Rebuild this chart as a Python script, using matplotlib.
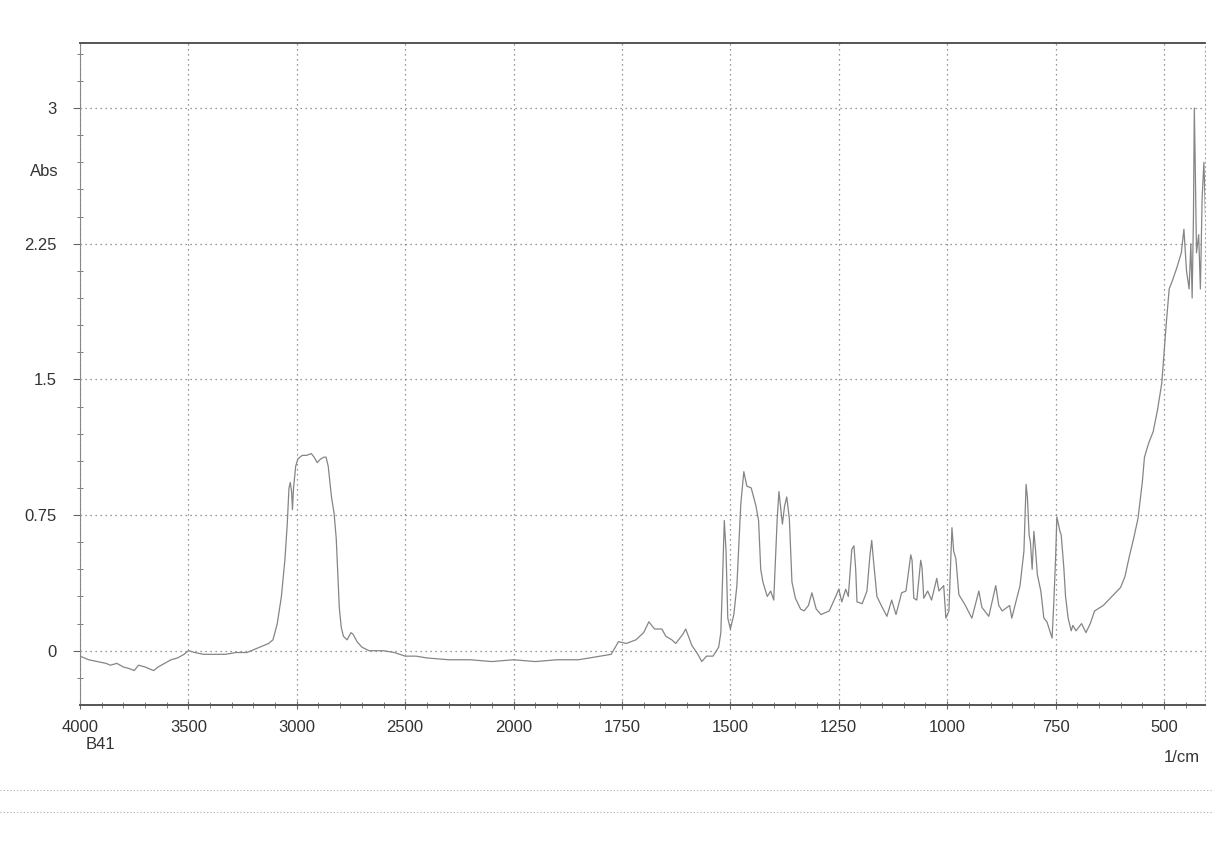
import numpy as np
import matplotlib
matplotlib.use("Agg")
import matplotlib.pyplot as plt
from matplotlib.lines import Line2D

plt.rcParams['font.family'] = ['Liberation Sans', 'DejaVu Sans']

# IR spectrum (wavenumber 1/cm, absorbance)
wavenumber = [4000, 3960, 3920, 3880, 3860, 3830, 3800, 3770, 3750, 3730, 3700, 3680, 3660, 3640,
              3610, 3580, 3550, 3520, 3500, 3470, 3430, 3380, 3330, 3280, 3230, 3190, 3170, 3130,
              3110, 3090, 3071, 3055, 3044, 3036, 3030, 3024, 3020, 3015, 3005, 2995, 2975, 2955,
              2933, 2920, 2906, 2890, 2875, 2865, 2855, 2840, 2828, 2818, 2810, 2804, 2795, 2785,
              2768, 2750, 2740, 2722, 2700, 2667, 2600, 2550, 2500, 2450, 2400, 2300, 2200, 2100,
              2000, 1950, 1900, 1850, 1800, 1775, 1758, 1740, 1718, 1700, 1688, 1675, 1658, 1649,
              1635, 1626, 1610, 1603, 1589, 1575, 1566, 1555, 1540, 1527, 1522, 1518, 1514, 1510,
              1506, 1500, 1492, 1485, 1476, 1469, 1462, 1452, 1441, 1435, 1430, 1425, 1415, 1407,
              1400, 1392, 1388, 1380, 1375, 1370, 1364, 1358, 1350, 1338, 1330, 1320, 1312, 1302,
              1291, 1272, 1257, 1250, 1243, 1234, 1228, 1220, 1215, 1211, 1208, 1196, 1185, 1178,
              1174, 1170, 1162, 1152, 1139, 1128, 1118, 1105, 1095, 1084, 1081, 1077, 1070, 1061,
              1058, 1054, 1045, 1036, 1024, 1019, 1008, 1003, 996, 989, 985, 980, 973, 958, 943,
              927, 920, 904, 888, 881, 873, 856, 851, 832, 823, 818, 815, 811, 808, 804, 800, 796,
              792, 784, 777, 770, 758, 754, 750, 747, 740, 737, 731, 727, 721, 714, 710, 703, 690,
              680, 670, 660, 640, 620, 600, 590, 580, 570, 560, 550, 545, 535, 525, 515, 505, 495,
              488, 480, 470, 460, 454, 448, 442, 438, 435, 432, 430, 428, 425, 420, 416, 412, 408,
              404, 400]
absorbance = [-0.03, -0.05, -0.06, -0.07, -0.08, -0.07, -0.09, -0.10, -0.11, -0.08, -0.09, -0.10,
              -0.11, -0.09, -0.07, -0.05, -0.04, -0.02, 0.00, -0.01, -0.02, -0.02, -0.02, -0.01,
              -0.01, 0.01, 0.02, 0.04, 0.06, 0.15, 0.30, 0.50, 0.70, 0.90, 0.93, 0.88, 0.78, 0.90,
              1.02, 1.06, 1.08, 1.08, 1.09, 1.07, 1.04, 1.06, 1.07, 1.07, 1.02, 0.85, 0.76, 0.62,
              0.40, 0.24, 0.13, 0.08, 0.06, 0.10, 0.09, 0.05, 0.02, 0.00, 0.00, -0.01, -0.03, -0.03,
              -0.04, -0.05, -0.05, -0.06, -0.05, -0.06, -0.05, -0.05, -0.03, -0.02, 0.05, 0.04, 0.06,
              0.10, 0.16, 0.12, 0.12, 0.08, 0.06, 0.04, 0.09, 0.12, 0.03, -0.02, -0.06, -0.03, -0.03,
              0.02, 0.10, 0.40, 0.72, 0.55, 0.18, 0.12, 0.20, 0.36, 0.81, 0.99, 0.91, 0.90, 0.80,
              0.72, 0.45, 0.38, 0.30, 0.33, 0.28, 0.73, 0.88, 0.70, 0.80, 0.85, 0.73, 0.38, 0.29,
              0.23, 0.22, 0.25, 0.32, 0.23, 0.20, 0.22, 0.30, 0.34, 0.27, 0.34, 0.30, 0.56, 0.58,
              0.45, 0.27, 0.26, 0.33, 0.53, 0.61, 0.50, 0.30, 0.25, 0.19, 0.28, 0.20, 0.32, 0.33,
              0.53, 0.50, 0.29, 0.28, 0.50, 0.46, 0.29, 0.33, 0.28, 0.40, 0.33, 0.36, 0.18, 0.22,
              0.68, 0.55, 0.51, 0.31, 0.25, 0.18, 0.33, 0.24, 0.19, 0.36, 0.25, 0.22, 0.25, 0.18,
              0.36, 0.55, 0.92, 0.85, 0.64, 0.60, 0.45, 0.66, 0.55, 0.42, 0.33, 0.18, 0.16, 0.07,
              0.27, 0.51, 0.74, 0.66, 0.64, 0.46, 0.30, 0.18, 0.11, 0.14, 0.11, 0.15, 0.10, 0.15,
              0.22, 0.25, 0.30, 0.35, 0.41, 0.52, 0.62, 0.73, 0.93, 1.07, 1.15, 1.21, 1.33, 1.48,
              1.80, 2.00, 2.05, 2.12, 2.20, 2.33, 2.10, 2.00, 2.25, 1.95, 2.40, 3.00, 2.70, 2.20,
              2.30, 2.00, 2.50, 2.70, 2.40, 2.65]

x_major = [4000, 3500, 3000, 2500, 2000, 1750, 1500, 1250, 1000, 750, 500]
y_major = [0, 0.75, 1.5, 2.25, 3]
y_labels = ['0', '0.75', '1.5', '2.25', '3']


# the instrument prints 4000-2000 at half the scale of 2000-400
def fwd(w):
    w = np.asarray(w, dtype=float)
    return np.where(w > 2000, 2000 + (w - 2000) / 2.0, w)


def inv(t):
    t = np.asarray(t, dtype=float)
    return np.where(t > 2000, 2000 + (t - 2000) * 2.0, t)


fig = plt.figure(figsize=(12.12, 8.46), dpi=100)
ax = fig.add_axes([0.066, 0.1667, 0.928, 0.7825])

ax.set_xscale('function', functions=(fwd, inv))
ax.set_xlim(4000, 406)
ax.set_ylim(-0.3, 3.36)

ax.plot(wavenumber, absorbance, color='#858585', lw=0.9)

x_minor = [w for w in range(3900, 2000, -100) if w not in x_major]
x_minor += [w for w in range(1950, 400, -50) if w not in x_major]
y_minor = [round(v, 2) for v in np.arange(-0.15, 3.35, 0.15)]

ax.set_xticks(x_major)
ax.set_xticklabels([str(w) for w in x_major])
ax.set_xticks(x_minor, minor=True)
ax.set_yticks(y_major)
ax.set_yticklabels(y_labels)
ax.set_yticks(y_minor, minor=True)

ax.tick_params(axis='both', which='both', colors='#666', labelcolor='#333', labelsize=12)
ax.tick_params(axis='x', which='major', direction='inout', length=6, pad=8)
ax.tick_params(axis='x', which='minor', direction='inout', length=4)
ax.tick_params(axis='y', which='major', direction='out', length=5, pad=12)
ax.tick_params(axis='y', which='minor', direction='inout', length=5)

ax.grid(True, which='major', linestyle=(0, (1, 3)), color='#777', lw=0.9)

for side in ['top', 'bottom']:
    ax.spines[side].set_color('#555')
    ax.spines[side].set_linewidth(1.4)
ax.spines['left'].set_color('#888')
ax.spines['left'].set_linewidth(0.8)
ax.spines['right'].set_color('#aaa')
ax.spines['right'].set_linestyle((0, (1, 3)))

ax.text(-0.032, 2.65, 'Abs', transform=ax.get_yaxis_transform(), ha='center', va='center',
        fontsize=12, color='#333')
ax.text(0.018, -0.06, 'B41', transform=ax.transAxes, ha='center', va='center',
        fontsize=12, color='#333')
ax.text(0.98, -0.079, '1/cm', transform=ax.transAxes, ha='center', va='center',
        fontsize=12, color='#333')

# faint rules printed below the chart
for yf in [0.066, 0.040]:
    fig.add_artist(Line2D([0, 1], [yf, yf], transform=fig.transFigure,
                          linestyle=(0, (1, 2)), color='#aaa', lw=0.8))

fig.savefig('out.png', dpi=100)
